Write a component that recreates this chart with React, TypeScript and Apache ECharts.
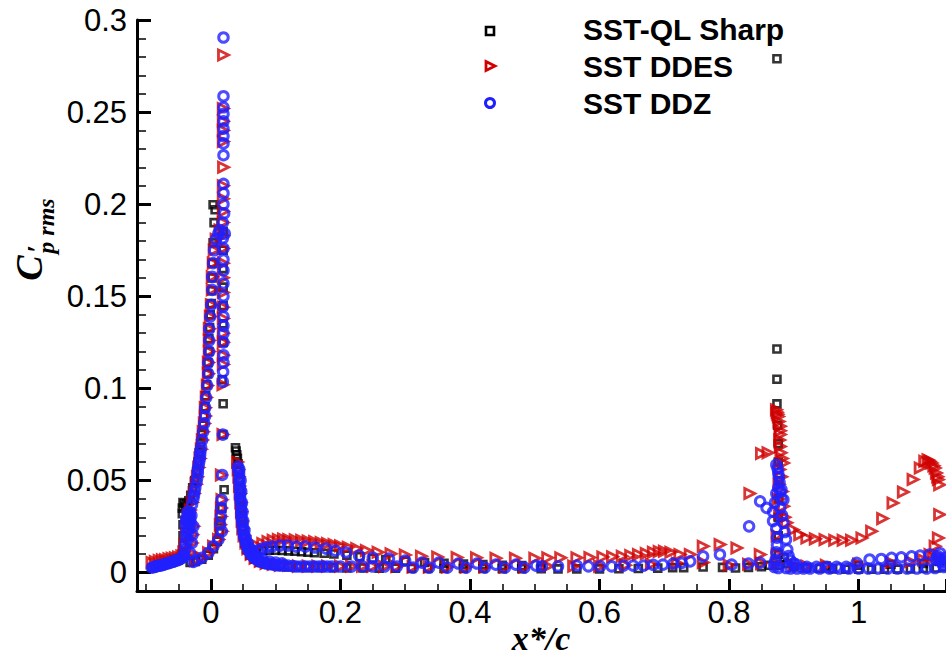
import React, { useEffect, useRef } from "react";
import * as echarts from "echarts";

const seriesNames = ["SST-QL Sharp", "SST DDES", "SST DDZ"];
const xAxisTitle = "x*/c";
const yAxisTitleMain = "C";
const yAxisTitlePrime = "\u2032";
const yAxisTitleSub = "p rms";

// SST-QL Sharp (black squares)
const sharpPts: number[][] = [
  [-0.091, 0.0025], [-0.086, 0.003], [-0.081, 0.0035], [-0.076, 0.004], [-0.071, 0.0045], [-0.066, 0.005],
  [-0.061, 0.0055], [-0.056, 0.006], [-0.051, 0.0068], [-0.047, 0.0078], [-0.044, 0.01], [-0.043, 0.015],
  [-0.043, 0.02], [-0.043, 0.026], [-0.044, 0.032], [-0.044, 0.035], [-0.043, 0.038], [-0.041, 0.0375],
  [-0.039, 0.036], [-0.037, 0.037], [-0.034, 0.039], [-0.031, 0.042], [-0.028, 0.046], [-0.025, 0.05],
  [-0.022, 0.055], [-0.02, 0.06], [-0.018, 0.065], [-0.016, 0.07], [-0.014, 0.075], [-0.012, 0.08],
  [-0.011, 0.085], [-0.009, 0.09], [-0.008, 0.096], [-0.0065, 0.102], [-0.005, 0.108], [-0.0045, 0.114],
  [-0.003, 0.12], [-0.003, 0.127], [-0.002, 0.133], [-0.001, 0.14], [0.0005, 0.146], [0.0015, 0.153],
  [0.002, 0.16], [0.002, 0.168], [0.0035, 0.179], [0.005, 0.19], [0.0035, 0.1997], [0.0066, 0.197],
  [0.019, 0.185], [0.019, 0.175], [0.019, 0.165], [0.019, 0.155], [0.019, 0.145], [0.019, 0.135],
  [0.019, 0.125], [0.0174, 0.1047], [0.019, 0.0917], [0.0185, 0.075], [0.0205, 0.045], [0.017, 0.035],
  [0.015, 0.028], [0.013, 0.022], [0.01, 0.017], [0.004, 0.013], [-0.004, 0.0095], [-0.014, 0.0072],
  [-0.024, 0.006], [-0.032, 0.0055],
  [0.038, 0.0678], [0.039, 0.066], [0.04, 0.064], [0.041, 0.062], [0.042, 0.059], [0.043, 0.055],
  [0.044, 0.05], [0.045, 0.045], [0.046, 0.04], [0.047, 0.035], [0.048, 0.03], [0.049, 0.025],
  [0.05, 0.02], [0.052, 0.016], [0.055, 0.0125], [0.06, 0.0095], [0.067, 0.0072], [0.075, 0.0055],
  [0.085, 0.0045], [0.096, 0.004], [0.108, 0.0035], [0.12, 0.003], [0.135, 0.003], [0.15, 0.0028],
  [0.17, 0.0028], [0.19, 0.0027], [0.21, 0.0025], [0.235, 0.0025], [0.26, 0.0024], [0.285, 0.0024],
  [0.31, 0.0023], [0.335, 0.0023], [0.36, 0.0022], [0.39, 0.0022], [0.42, 0.0022], [0.45, 0.0021],
  [0.48, 0.0021], [0.51, 0.0021], [0.536, 0.002], [0.565, 0.002], [0.6, 0.002], [0.63, 0.0021],
  [0.66, 0.0022], [0.69, 0.0024], [0.713, 0.0027], [0.73, 0.0027], [0.76, 0.003], [0.79, 0.0028],
  [0.81, 0.0025], [0.83, 0.0028], [0.85, 0.0032], [0.862, 0.004],
  [0.062, 0.0115], [0.07, 0.0118], [0.08, 0.012], [0.09, 0.0121], [0.1, 0.0121], [0.11, 0.012],
  [0.12, 0.0118], [0.13, 0.0116], [0.14, 0.0113], [0.15, 0.011], [0.16, 0.0108], [0.175, 0.0105],
  [0.19, 0.0101], [0.21, 0.0094], [0.23, 0.0086], [0.25, 0.0078], [0.27, 0.0071], [0.3, 0.0062],
  [0.33, 0.0055], [0.36, 0.005], [0.39, 0.0046], [0.42, 0.0043], [0.45, 0.004], [0.48, 0.0038],
  [0.51, 0.0036],
  [0.874, 0.279], [0.874, 0.1214], [0.874, 0.105], [0.874, 0.0916], [0.875, 0.08], [0.876, 0.07],
  [0.876, 0.06], [0.877, 0.05], [0.877, 0.04], [0.876, 0.03], [0.876, 0.02], [0.876, 0.01],
  [0.877, 0.004], [0.885, 0.008], [0.89, 0.005], [0.9, 0.003], [0.92, 0.0025], [0.94, 0.0022],
  [0.96, 0.002], [0.98, 0.0018], [1.0, 0.0018], [1.02, 0.0018], [1.04, 0.0018], [1.06, 0.0019],
  [1.08, 0.002], [1.1, 0.0022], [1.12, 0.0025], [1.13, 0.003], [0.95, 0.0035], [1.0, 0.004],
  [1.05, 0.0045], [1.1, 0.005], [1.125, 0.006],
];

// SST DDES (red triangles)
const ddesPts: number[][] = [
  [-0.091, 0.0055], [-0.086, 0.006], [-0.08, 0.0065], [-0.075, 0.007], [-0.07, 0.007], [-0.065, 0.0075],
  [-0.06, 0.0078], [-0.055, 0.008], [-0.05, 0.0085], [-0.045, 0.009], [-0.042, 0.011],
  [-0.04, 0.015], [-0.038, 0.02], [-0.037, 0.027], [-0.035, 0.031], [-0.032, 0.034], [-0.029, 0.038],
  [-0.026, 0.043], [-0.023, 0.048], [-0.021, 0.052], [-0.019, 0.057], [-0.017, 0.062], [-0.015, 0.067],
  [-0.0134, 0.072], [-0.012, 0.0765], [-0.0103, 0.081], [-0.0088, 0.085], [-0.0088, 0.0895], [-0.0073, 0.095],
  [-0.0057, 0.1015], [-0.0041, 0.108], [-0.0041, 0.114], [-0.0026, 0.12], [-0.0026, 0.126], [-0.0026, 0.1324],
  [-0.001, 0.139], [0.0005, 0.1454], [0.002, 0.1535], [0.002, 0.1606], [0.0035, 0.168], [0.005, 0.175],
  [0.008, 0.181], [0.014, 0.186],
  [0.0195, 0.281], [0.019, 0.252], [0.019, 0.245], [0.019, 0.24], [0.019, 0.234], [0.0195, 0.22],
  [0.019, 0.21], [0.019, 0.203], [0.019, 0.196], [0.019, 0.19], [0.019, 0.183], [0.019, 0.176],
  [0.019, 0.168], [0.019, 0.16], [0.019, 0.152], [0.019, 0.144], [0.019, 0.138], [0.019, 0.13],
  [0.019, 0.125], [0.019, 0.118], [0.019, 0.113], [0.0185, 0.102], [0.0185, 0.075], [0.016, 0.053],
  [0.017, 0.0396], [0.016, 0.035], [0.0155, 0.0305], [0.0144, 0.026], [0.017, 0.0224], [0.0117, 0.0179],
  [0.004, 0.0143], [-0.0037, 0.0107], [-0.0139, 0.008], [-0.024, 0.0065],
  [-0.0269, 0.0251], [-0.0284, 0.0206], [-0.0293, 0.0161], [-0.032, 0.0107],
  [0.041, 0.06], [0.042, 0.056], [0.043, 0.052], [0.044, 0.047], [0.045, 0.043], [0.046, 0.038],
  [0.047, 0.033], [0.048, 0.028], [0.049, 0.024], [0.051, 0.02], [0.054, 0.016], [0.057, 0.013],
  [0.062, 0.01], [0.068, 0.0078], [0.076, 0.0062], [0.085, 0.005], [0.096, 0.0045], [0.107, 0.004],
  [0.12, 0.004], [0.135, 0.0035], [0.15, 0.0035], [0.165, 0.0035], [0.18, 0.0035], [0.2, 0.0035],
  [0.217, 0.0035], [0.234, 0.0035], [0.25, 0.0035], [0.268, 0.0033], [0.287, 0.0033], [0.312, 0.003],
  [0.337, 0.003], [0.365, 0.003], [0.394, 0.003], [0.423, 0.003], [0.454, 0.003], [0.484, 0.003],
  [0.065, 0.013], [0.072, 0.0145], [0.08, 0.0158], [0.088, 0.0168], [0.096, 0.0175], [0.104, 0.018],
  [0.112, 0.0182], [0.12, 0.018], [0.13, 0.0178], [0.14, 0.0175], [0.15, 0.0172], [0.16, 0.0168],
  [0.17, 0.0163], [0.18, 0.0158], [0.19, 0.0152], [0.2, 0.0146], [0.212, 0.0138], [0.225, 0.013],
  [0.24, 0.012], [0.258, 0.011], [0.278, 0.0102], [0.3, 0.0095], [0.325, 0.0089], [0.35, 0.0085],
  [0.38, 0.0082], [0.41, 0.008], [0.44, 0.0078], [0.47, 0.0078], [0.5, 0.0078], [0.52, 0.008],
  [0.54, 0.008], [0.565, 0.0081], [0.585, 0.0082], [0.605, 0.0084], [0.62, 0.0086], [0.635, 0.0089],
  [0.648, 0.0093], [0.66, 0.0098], [0.672, 0.0104], [0.683, 0.011], [0.692, 0.0114], [0.7, 0.0116],
  [0.71, 0.011], [0.724, 0.0098], [0.74, 0.0098], [0.76, 0.0143], [0.786, 0.0152], [0.812, 0.0134],
  [0.832, 0.0429], [0.848, 0.0098], [0.85, 0.0646], [0.86, 0.065],
  [0.52, 0.0035], [0.56, 0.0035], [0.6, 0.0035], [0.64, 0.004], [0.68, 0.0045], [0.72, 0.005],
  [0.76, 0.0055], [0.8, 0.004], [0.83, 0.0045], [0.85, 0.005],
  [0.873, 0.0884], [0.874, 0.087], [0.875, 0.086], [0.876, 0.0848], [0.877, 0.082], [0.879, 0.0794],
  [0.879, 0.077], [0.879, 0.0749], [0.878, 0.072], [0.879, 0.0685], [0.88, 0.065], [0.882, 0.062],
  [0.884, 0.0595], [0.878, 0.056], [0.881, 0.052], [0.877, 0.048], [0.882, 0.044], [0.876, 0.04],
  [0.884, 0.036], [0.878, 0.032], [0.886, 0.03], [0.889, 0.027], [0.899, 0.0233], [0.909, 0.0206],
  [0.92, 0.0188], [0.933, 0.0183], [0.948, 0.0179], [0.963, 0.0175], [0.976, 0.0175], [0.989, 0.0175],
  [1.005, 0.0188], [1.02, 0.0224], [1.037, 0.0293], [1.053, 0.0378], [1.069, 0.0437], [1.084, 0.0505],
  [1.095, 0.0568], [1.102, 0.0604], [1.107, 0.0613], [1.11, 0.0604], [1.113, 0.0595], [1.116, 0.058],
  [1.118, 0.0568], [1.12, 0.0541], [1.122, 0.052], [1.123, 0.0505], [1.125, 0.0477], [1.125, 0.0315],
  [1.123, 0.0188], [1.118, 0.0143], [1.11, 0.0098],
  [0.874, 0.02], [0.874, 0.01], [0.875, 0.005], [0.9, 0.004], [0.92, 0.0035], [0.95, 0.004],
  [1.0, 0.0045], [1.05, 0.0055], [1.08, 0.006], [1.1, 0.007], [1.115, 0.008], [1.125, 0.009],
];

// SST DDZ (blue circles)
const ddzPts: number[][] = [
  [-0.091, 0.0027], [-0.088, 0.003], [-0.086, 0.0033], [-0.083, 0.0035], [-0.081, 0.0038], [-0.079, 0.0038],
  [-0.077, 0.004], [-0.074, 0.0042], [-0.072, 0.0045], [-0.07, 0.0047], [-0.067, 0.005], [-0.065, 0.0052],
  [-0.063, 0.0055], [-0.06, 0.0058], [-0.058, 0.006], [-0.056, 0.0063], [-0.054, 0.0066], [-0.051, 0.0068],
  [-0.049, 0.0071], [-0.047, 0.0075], [-0.044, 0.0081], [-0.042, 0.009], [-0.041, 0.0098], [-0.04, 0.0125],
  [-0.039, 0.0157], [-0.038, 0.019], [-0.038, 0.022], [-0.039, 0.026], [-0.038, 0.029], [-0.036, 0.031],
  [-0.034, 0.03], [-0.032, 0.029], [-0.032, 0.033], [-0.029, 0.037], [-0.027, 0.04], [-0.026, 0.042],
  [-0.025, 0.044], [-0.024, 0.046], [-0.022, 0.049], [-0.021, 0.0515], [-0.02, 0.054], [-0.02, 0.056],
  [-0.019, 0.058], [-0.018, 0.06], [-0.017, 0.062], [-0.0165, 0.064], [-0.016, 0.066], [-0.015, 0.068],
  [-0.037, 0.028], [-0.035, 0.027], [-0.036, 0.033], [-0.033, 0.031], [-0.034, 0.026], [-0.031, 0.027],
  [-0.036, 0.0175], [-0.035, 0.022], [-0.033, 0.024], [-0.03, 0.031],
  [-0.0134, 0.072], [-0.012, 0.0765], [-0.0103, 0.081], [-0.0088, 0.085], [-0.0088, 0.0895], [-0.0073, 0.095],
  [-0.0057, 0.1015], [-0.0041, 0.108], [-0.0041, 0.114], [-0.0026, 0.12], [-0.0026, 0.126], [-0.0026, 0.1324],
  [-0.001, 0.139], [0.0005, 0.1454], [0.002, 0.1535], [0.002, 0.1606], [0.0035, 0.168], [0.005, 0.175],
  [0.008, 0.181], [0.0115, 0.184], [0.014, 0.186],
  [0.0185, 0.1815], [0.0215, 0.184], [0.0185, 0.19], [0.0205, 0.195], [0.0195, 0.2], [0.0195, 0.206],
  [0.0195, 0.211], [0.0195, 0.2266], [0.0195, 0.233], [0.0195, 0.237], [0.0195, 0.241], [0.0195, 0.245],
  [0.0195, 0.249], [0.0195, 0.2526], [0.0195, 0.2586], [0.0195, 0.2905],
  [0.0195, 0.176], [0.0195, 0.17], [0.0195, 0.164], [0.0195, 0.157], [0.0195, 0.15], [0.0185, 0.1443],
  [0.0195, 0.139], [0.0195, 0.134], [0.0195, 0.13], [0.0195, 0.125], [0.0195, 0.118], [0.0195, 0.114],
  [0.019, 0.109], [0.0185, 0.1036], [0.0185, 0.0749], [0.0175, 0.053], [0.0165, 0.0396], [0.016, 0.035],
  [0.0155, 0.0305], [0.0145, 0.026], [0.017, 0.0224], [0.0117, 0.0179], [0.004, 0.0143], [-0.0037, 0.0107],
  [-0.0139, 0.008], [-0.021, 0.0068], [-0.027, 0.0058],
  [-0.0269, 0.0251], [-0.0284, 0.0206], [-0.0293, 0.0161], [-0.032, 0.0107],
  [0.042, 0.0575], [0.0428, 0.0555], [0.0437, 0.0537], [0.044, 0.0515], [0.0437, 0.0494], [0.0445, 0.047],
  [0.0452, 0.045], [0.0452, 0.0428], [0.0452, 0.0407], [0.046, 0.0385], [0.0468, 0.0364], [0.0468, 0.0342],
  [0.0468, 0.032], [0.0475, 0.0298], [0.0483, 0.0277], [0.049, 0.0255], [0.0499, 0.0233], [0.0505, 0.0214],
  [0.0514, 0.0195], [0.053, 0.0176], [0.0545, 0.0157], [0.056, 0.014], [0.0576, 0.0125], [0.06, 0.011],
  [0.0622, 0.0098], [0.065, 0.0087], [0.0684, 0.0076], [0.072, 0.0068], [0.076, 0.006], [0.08, 0.0055],
  [0.0853, 0.0049], [0.09, 0.0046], [0.096, 0.0043], [0.101, 0.004], [0.107, 0.0038], [0.113, 0.0038],
  [0.119, 0.0038], [0.126, 0.0035], [0.132, 0.0033], [0.139, 0.0033], [0.146, 0.0033], [0.153, 0.0033],
  [0.16, 0.0033], [0.167, 0.0033], [0.173, 0.0033], [0.18, 0.0033], [0.187, 0.0033],
  [0.044, 0.056], [0.046, 0.05], [0.047, 0.044], [0.048, 0.038], [0.049, 0.033], [0.05, 0.028],
  [0.052, 0.023], [0.054, 0.019], [0.057, 0.016], [0.061, 0.013], [0.066, 0.0105], [0.072, 0.0085],
  [0.08, 0.007], [0.09, 0.006], [0.1, 0.0055], [0.11, 0.005],
  [0.2, 0.0033], [0.217, 0.0033], [0.234, 0.0033], [0.25, 0.0033], [0.268, 0.0033], [0.287, 0.0033],
  [0.312, 0.0027], [0.337, 0.0027], [0.365, 0.0027], [0.394, 0.0027], [0.423, 0.0027], [0.454, 0.0027],
  [0.484, 0.0027],
  [0.065, 0.0109], [0.072, 0.012], [0.079, 0.013], [0.087, 0.0137], [0.0946, 0.0141], [0.107, 0.0147],
  [0.119, 0.0147], [0.132, 0.0141], [0.146, 0.0141], [0.161, 0.0136], [0.178, 0.013], [0.192, 0.0119],
  [0.209, 0.0109], [0.229, 0.0092], [0.25, 0.0081], [0.275, 0.0076], [0.3, 0.0065], [0.326, 0.0054],
  [0.352, 0.0054], [0.382, 0.0049], [0.411, 0.0049], [0.44, 0.0043], [0.471, 0.0043], [0.502, 0.0038],
  [0.511, 0.0034], [0.536, 0.0034], [0.565, 0.0038], [0.583, 0.0034], [0.601, 0.0034], [0.619, 0.0034],
  [0.637, 0.0038], [0.652, 0.0038], [0.668, 0.0038], [0.683, 0.0042], [0.698, 0.0043], [0.714, 0.0049],
  [0.727, 0.0053], [0.74, 0.0061], [0.76, 0.0088], [0.786, 0.0098], [0.804, 0.0043], [0.83, 0.0049],
  [0.848, 0.0053], [0.831, 0.0251], [0.848, 0.0387], [0.858, 0.0351],
  [0.873, 0.0586], [0.875, 0.0565], [0.876, 0.054], [0.877, 0.052], [0.878, 0.049], [0.876, 0.046],
  [0.879, 0.044], [0.873, 0.043], [0.881, 0.045], [0.884, 0.0396], [0.881, 0.04], [0.871, 0.038],
  [0.879, 0.035], [0.868, 0.033], [0.882, 0.031], [0.868, 0.028], [0.884, 0.027], [0.873, 0.024],
  [0.886, 0.022], [0.874, 0.019], [0.888, 0.018], [0.874, 0.015], [0.89, 0.0125], [0.873, 0.011],
  [0.892, 0.009], [0.872, 0.007], [0.895, 0.0065], [0.87, 0.005], [0.9, 0.005], [0.87, 0.003],
  [0.876, 0.0025],
  [0.888, 0.0025], [0.895, 0.0022], [0.904, 0.0043], [0.905, 0.0022], [0.915, 0.0022], [0.92, 0.0031],
  [0.925, 0.0022], [0.935, 0.0031], [0.94, 0.0022], [0.951, 0.0031], [0.955, 0.0022], [0.966, 0.0031],
  [0.97, 0.0022], [0.981, 0.0031], [0.985, 0.0022], [0.997, 0.0053], [1.0, 0.0022], [1.015, 0.0022],
  [1.017, 0.0071], [1.03, 0.0022], [1.035, 0.0074], [1.045, 0.0022], [1.051, 0.008], [1.06, 0.0022],
  [1.066, 0.0083], [1.075, 0.0022], [1.082, 0.0088], [1.09, 0.0022], [1.095, 0.0092], [1.105, 0.0022],
  [1.11, 0.0098], [1.118, 0.0025], [1.12, 0.0071], [1.122, 0.009], [1.125, 0.0075], [1.126, 0.0105],
  [1.128, 0.006], [1.13, 0.0045], [1.131, 0.0061], [1.132, 0.003], [1.133, 0.008],
];

const BLACK = "#000000";
const RED = "#d00000";
const BLUE = "#2020ff";

export default function App() {
  const ref = useRef<HTMLDivElement>(null);
  useEffect(() => {
    document.body.style.margin = "0";
    const chart = echarts.init(ref.current!, null, { renderer: "svg" });
    const axisFont = { color: "#000", fontSize: 31, fontFamily: "Liberation Sans, Arial, sans-serif" };
    const legendY = [29, 66, 103];
    const legendText = (t: string, y: number) => ({
      type: "text",
      x: 583,
      y,
      z: 100,
      style: {
        text: t,
        fill: "#000",
        fontSize: 30,
        fontWeight: "bold",
        fontFamily: "Liberation Sans, Arial, sans-serif",
        align: "left",
        verticalAlign: "middle",
        textAlign: "left",
        textVerticalAlign: "middle",
      },
    });
    const serifText = (t: string, x: number, y: number, size: number, rot: number) => ({
      type: "text",
      x,
      y,
      rotation: rot,
      z: 100,
      style: {
        text: t,
        fill: "#000",
        fontSize: size,
        fontWeight: "bold",
        fontStyle: "italic",
        fontFamily: "Liberation Serif, Times New Roman, serif",
        align: "center",
        verticalAlign: "middle",
        textAlign: "center",
        textVerticalAlign: "middle",
      },
    });
    chart.setOption({
      animation: false,
      backgroundColor: "#ffffff",
      grid: { left: 137, right: 0, top: 20, bottom: 69, containLabel: false },
      xAxis: {
        type: "value",
        min: -0.114,
        max: 1.135,
        splitNumber: 6,
        axisLine: { onZero: false, lineStyle: { color: "#000", width: 3 } },
        axisTick: { inside: true, length: 12, lineStyle: { color: "#000", width: 3 } },
        minorTick: { show: true, splitNumber: 4, length: 7, lineStyle: { color: "#000", width: 1.5 } },
        splitLine: { show: false },
        axisLabel: { ...axisFont, margin: 6, showMinLabel: false, showMaxLabel: false },
      },
      yAxis: {
        type: "value",
        min: -0.01,
        max: 0.3,
        splitNumber: 6,
        axisLine: { onZero: false, lineStyle: { color: "#000", width: 3 } },
        axisTick: { inside: true, length: 14, lineStyle: { color: "#000", width: 3 } },
        minorTick: { show: true, splitNumber: 5, length: 9, lineStyle: { color: "#000", width: 1.5 } },
        splitLine: { show: false },
        axisLabel: { ...axisFont, margin: 10, showMinLabel: false },
      },
      series: [
        {
          name: seriesNames[0],
          type: "scatter",
          data: sharpPts,
          symbol: "rect",
          symbolSize: 7,
          silent: true,
          itemStyle: { color: "rgba(0,0,0,0)", borderColor: BLACK, borderWidth: 2.6 },
        },
        {
          name: seriesNames[1],
          type: "scatter",
          data: ddesPts,
          symbol: "triangle",
          symbolSize: 10,
          symbolRotate: -90,
          silent: true,
          itemStyle: { color: "rgba(0,0,0,0)", borderColor: RED, borderWidth: 2.8 },
        },
        {
          name: seriesNames[2],
          type: "scatter",
          data: ddzPts,
          symbol: "circle",
          symbolSize: 9.5,
          silent: true,
          itemStyle: { color: "rgba(0,0,0,0)", borderColor: BLUE, borderWidth: 3 },
        },
      ],
      graphic: [
        { type: "rect", z: 100, shape: { x: 486, y: legendY[0] - 2, width: 8, height: 8 }, style: { fill: "none", stroke: BLACK, lineWidth: 2.6 } },
        { type: "polygon", z: 100, shape: { points: [[486, legendY[1] - 4.5], [495, legendY[1]], [486, legendY[1] + 4.5]] }, style: { fill: "none", stroke: RED, lineWidth: 2.8 } },
        { type: "circle", z: 100, shape: { cx: 490, cy: legendY[2], r: 4.5 }, style: { fill: "none", stroke: BLUE, lineWidth: 3 } },
        legendText(seriesNames[0], legendY[0]),
        legendText(seriesNames[1], legendY[1]),
        legendText(seriesNames[2], legendY[2]),
        serifText(xAxisTitle, 541, 638, 34, 0),
        serifText(yAxisTitleMain, 29, 268, 38, Math.PI / 2),
        serifText(yAxisTitlePrime, 36, 249, 28, Math.PI / 2),
        serifText(yAxisTitleSub, 46, 226, 24, Math.PI / 2),
      ],
    });
    return () => chart.dispose();
  }, []);
  return <div ref={ref} style={{ width: 946, height: 660 }} />;
}
